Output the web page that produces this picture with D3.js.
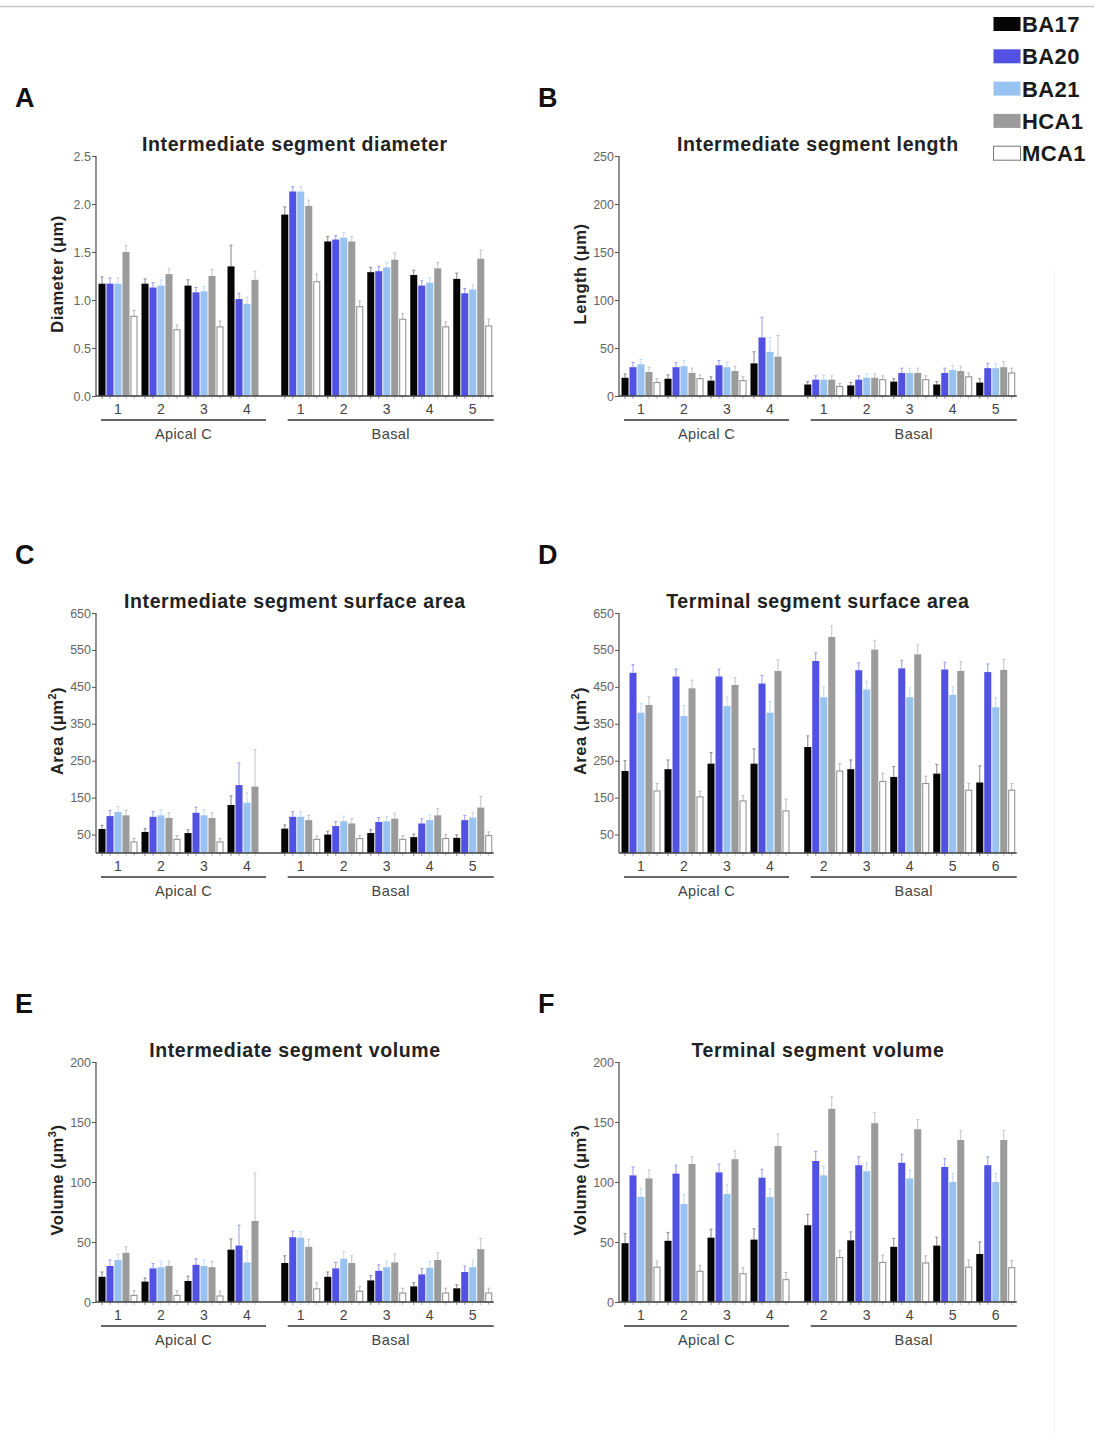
<!DOCTYPE html>
<html>
<head>
<meta charset="utf-8">
<script src="https://cdn.jsdelivr.net/npm/d3@7"></script>
<style>
  body { margin: 0; background: #fff; }
  svg { display: block; }
  text { font-family: "Liberation Sans", Arial, sans-serif; }
</style>
</head>
<body>
<div id="chart"></div>
<script>
// series + categories
const series = ["BA17", "BA20", "BA21", "HCA1", "MCA1"];
const sections = ["Apical C", "Apical C", "Apical C", "Apical C", "Basal", "Basal", "Basal", "Basal", "Basal"];
const interGroups = ["1", "2", "3", "4", "1", "2", "3", "4", "5"];
const termGroups = ["1", "2", "3", "4", "2", "3", "4", "5", "6"];

// A - intermediate segment diameter (µm), rows = groups, cols = series
const diameterMean = [
  [1.17, 1.17, 1.17, 1.50, 0.83],
  [1.17, 1.13, 1.15, 1.27, 0.69],
  [1.15, 1.08, 1.09, 1.25, 0.72],
  [1.35, 1.01, 0.96, 1.21, null],
  [1.89, 2.13, 2.13, 1.98, 1.19],
  [1.61, 1.63, 1.65, 1.61, 0.93],
  [1.29, 1.30, 1.34, 1.42, 0.80],
  [1.26, 1.15, 1.18, 1.33, 0.72],
  [1.22, 1.07, 1.11, 1.43, 0.73]
];
const diameterErr = [
  [0.07, 0.06, 0.06, 0.07, 0.06],
  [0.05, 0.05, 0.06, 0.06, 0.05],
  [0.06, 0.05, 0.05, 0.07, 0.06],
  [0.22, 0.06, 0.07, 0.09, null],
  [0.08, 0.05, 0.05, 0.06, 0.08],
  [0.05, 0.04, 0.05, 0.05, 0.06],
  [0.05, 0.05, 0.05, 0.07, 0.06],
  [0.05, 0.05, 0.05, 0.06, 0.05],
  [0.06, 0.05, 0.05, 0.09, 0.07]
];

// B - intermediate segment length (µm)
const lengthMean = [
  [19, 30, 33, 25, 14],
  [18, 30, 31, 24, 18],
  [16, 32, 30, 26, 16],
  [34, 61, 46, 41, null],
  [12, 17, 17, 17, 10],
  [11, 17, 19, 19, 17],
  [15, 24, 24, 24, 17],
  [12, 24, 27, 26, 20],
  [14, 29, 29, 30, 24]
];
const lengthErr = [
  [4, 5, 5, 5, 4],
  [4, 5, 6, 5, 4],
  [4, 5, 5, 5, 4],
  [12, 21, 15, 22, null],
  [3, 4, 5, 4, 3],
  [3, 4, 4, 4, 4],
  [3, 5, 5, 5, 4],
  [3, 5, 5, 5, 4],
  [4, 5, 5, 6, 5]
];

// C - intermediate segment surface area (µm²)
const areaInterMean = [
  [65, 100, 111, 102, 30],
  [57, 98, 102, 95, 37],
  [54, 109, 102, 95, 30],
  [130, 184, 136, 180, null],
  [66, 98, 98, 89, 37],
  [50, 73, 86, 80, 39],
  [54, 84, 86, 93, 37],
  [43, 80, 89, 102, 39],
  [41, 89, 96, 123, 47]
];
const areaInterErr = [
  [10, 15, 15, 14, 9],
  [9, 14, 15, 14, 10],
  [9, 15, 15, 14, 9],
  [25, 60, 28, 100, null],
  [10, 14, 14, 13, 9],
  [9, 12, 14, 13, 9],
  [9, 12, 13, 15, 10],
  [8, 13, 14, 18, 11],
  [8, 13, 14, 30, 10]
];

// D - terminal segment surface area (µm²)
const areaTermMean = [
  [222, 488, 380, 401, 168],
  [227, 478, 371, 446, 152],
  [242, 478, 398, 455, 141],
  [242, 459, 380, 493, 114],
  [287, 520, 422, 585, 222],
  [227, 495, 443, 551, 194],
  [206, 500, 422, 538, 188],
  [215, 497, 428, 493, 170],
  [191, 490, 395, 496, 170]
];
const areaTermErr = [
  [28, 22, 25, 22, 20],
  [25, 20, 28, 22, 15],
  [30, 20, 25, 20, 15],
  [40, 22, 30, 30, 32],
  [30, 22, 28, 30, 20],
  [25, 20, 22, 25, 22],
  [28, 22, 25, 25, 20],
  [25, 20, 22, 25, 18],
  [45, 22, 25, 28, 18]
];

// E - intermediate segment volume (µm³)
const volInterMean = [
  [21, 30, 35, 41, 5.5],
  [17, 28, 29, 30, 5.5],
  [17.5, 31, 30, 29, 5],
  [43.6, 47, 33, 67.5, null],
  [32.5, 54, 53.6, 46, 11],
  [21, 28, 36, 32.5, 9],
  [18, 26, 29, 33, 7.5],
  [13, 23, 28.6, 35, 7.5],
  [11.4, 25, 29, 44, 7.5]
];
const volInterErr = [
  [4, 5, 5, 5, 4],
  [3, 4, 5, 4, 4],
  [4, 5, 5, 5, 4],
  [9, 17, 10, 40, null],
  [6, 5, 5, 6, 5],
  [4, 5, 6, 6, 4],
  [4, 5, 5, 7, 4],
  [3, 5, 5, 6, 4],
  [3, 5, 6, 9, 4]
];

// F - terminal segment volume (µm³)
const volTermMean = [
  [49, 105.5, 87.5, 103, 29],
  [51, 107, 81.7, 115, 25.6],
  [53.6, 108, 90, 119, 23.6],
  [52, 103.6, 87.5, 130, 18.6],
  [64, 117.5, 105.5, 161, 37],
  [51.4, 114, 109, 149, 33],
  [46, 116, 103, 144, 32.5],
  [47, 112.5, 100, 135, 29],
  [40, 114, 100, 135, 28.6]
];
const volTermErr = [
  [8, 7, 7, 7, 5],
  [7, 7, 8, 6, 5],
  [7, 7, 8, 7, 5],
  [9, 7, 7, 10, 6],
  [9, 8, 8, 10, 6],
  [7, 7, 7, 9, 6],
  [7, 7, 7, 8, 6],
  [7, 7, 7, 8, 6],
  [10, 7, 7, 8, 6]
];

const diameterTicks = [0, 0.5, 1.0, 1.5, 2.0, 2.5];
const lengthTicks = [0, 50, 100, 150, 200, 250];
const areaTicks = [50, 150, 250, 350, 450, 550, 650];
const volumeTicks = [0, 50, 100, 150, 200];

const fills = ["#050505", "#5151e3", "#98c2ef", "#9b9b9b", "#ffffff"];
const errColors = ["#888888", "#9a9aee", "#c0d8f3", "#c4c4c4", "#b8b8b8"];

const W = 1094, H = 1434;
const svg = d3.select("#chart").append("svg")
  .attr("width", W)
  .attr("height", H);

svg.append("line")
  .attr("x1", 0).attr("x2", W).attr("y1", 6.5).attr("y2", 6.5)
  .attr("stroke", "#c8c8c8").attr("stroke-width", 1.5);
svg.append("line")
  .attr("x1", 1054.5).attr("x2", 1054.5).attr("y1", 270).attr("y2", H)
  .attr("stroke", "#f2f2f2").attr("stroke-width", 1);

function drawPanel(cfg) {
  const g = svg.append("g");
  const step = 43;
  const slot = (i) => i + (sections[i] === "Basal" ? 0.25 : 0);
  const cx = d3.scaleLinear().domain([0, 1]).range([cfg.x0, cfg.x0 + step]);
  const inner = d3.scaleBand().domain(series).range([-19.5, 19.5]).paddingInner(0.12);
  const y = d3.scaleLinear().domain(cfg.domain).range([cfg.top + 240, cfg.top]);
  const axisX = cfg.x0 - 22;
  const rightX = cx(slot(8)) + 21;
  const base = y(cfg.domain[0]);

  // panel letter + title
  g.append("text")
    .attr("x", cfg.x0 - 103).attr("y", cfg.top - 49)
    .style("font-size", "27px").style("font-weight", "bold").style("fill", "#111")
    .text(cfg.letter);
  g.append("text")
    .attr("x", (axisX + rightX) / 2).attr("y", cfg.top - 5)
    .attr("text-anchor", "middle")
    .style("font-size", "19.5px").style("font-weight", "bold").style("fill", "#222")
    .style("letter-spacing", "0.6px")
    .text(cfg.title);

  // bars
  const cells = [];
  cfg.mean.forEach((row, i) => row.forEach((v, j) => {
    if (v != null) cells.push({ i, j, v, e: cfg.err[i][j] });
  }));

  g.selectAll("line.err").data(cells).enter().append("line")
    .attr("class", "err")
    .attr("x1", d => cx(slot(d.i)) + inner(series[d.j]) + inner.bandwidth() / 2)
    .attr("x2", d => cx(slot(d.i)) + inner(series[d.j]) + inner.bandwidth() / 2)
    .attr("y1", d => y(d.v))
    .attr("y2", d => y(d.v + d.e))
    .attr("stroke", d => errColors[d.j]).attr("stroke-width", 1);
  g.selectAll("line.cap").data(cells).enter().append("line")
    .attr("class", "cap")
    .attr("x1", d => cx(slot(d.i)) + inner(series[d.j]) + inner.bandwidth() / 2 - 1.5)
    .attr("x2", d => cx(slot(d.i)) + inner(series[d.j]) + inner.bandwidth() / 2 + 1.5)
    .attr("y1", d => y(d.v + d.e))
    .attr("y2", d => y(d.v + d.e))
    .attr("stroke", d => errColors[d.j]).attr("stroke-width", 1);

  g.selectAll("rect.bar").data(cells).enter().append("rect")
    .attr("class", "bar")
    .attr("x", d => cx(slot(d.i)) + inner(series[d.j]) + (d.j === 4 ? 0.5 : 0))
    .attr("y", d => y(d.v))
    .attr("width", d => inner.bandwidth() - (d.j === 4 ? 1 : 0))
    .attr("height", d => base - y(d.v))
    .attr("fill", d => fills[d.j])
    .attr("stroke", d => d.j === 4 ? "#8a8a8a" : "none")
    .attr("stroke-width", 1);

  // little ticks under each bar
  g.selectAll("line.btick").data(cells).enter().append("line")
    .attr("class", "btick")
    .attr("x1", d => cx(slot(d.i)) + inner(series[d.j]) + inner.bandwidth() / 2)
    .attr("x2", d => cx(slot(d.i)) + inner(series[d.j]) + inner.bandwidth() / 2)
    .attr("y1", base).attr("y2", base + 3)
    .attr("stroke", d => errColors[d.j]).attr("stroke-width", 1);

  // axes
  const yAxis = d3.axisLeft(y).tickValues(cfg.ticks).tickSize(4).tickSizeOuter(0)
    .tickFormat(cfg.fmt);
  const ya = g.append("g").attr("transform", `translate(${axisX},0)`).call(yAxis);
  ya.select(".domain").attr("stroke", "#555").attr("stroke-width", 1.3)
    .attr("d", `M0,${base}V${cfg.top}`);
  ya.selectAll(".tick line").attr("stroke", "#555");
  ya.selectAll(".tick text").style("font-size", "12.5px").style("fill", "#666")
    .style("font-family", "'Liberation Sans', Arial, sans-serif").attr("x", -5);

  g.append("line")
    .attr("x1", axisX).attr("x2", rightX).attr("y1", base).attr("y2", base)
    .attr("stroke", "#444").attr("stroke-width", 1.3);

  // group numbers
  const groups = cfg.groups.map((t, i) => ({ t, i }));
  g.selectAll("text.grp").data(groups).enter().append("text")
    .attr("class", "grp")
    .attr("x", d => cx(slot(d.i)))
    .attr("y", base + 18)
    .attr("text-anchor", "middle")
    .style("font-size", "14px").style("fill", "#444")
    .text(d => d.t);

  // section underlines
  const secs = [
    { name: "Apical C", a: cx(slot(0)) - 17, b: cx(slot(3)) + 19 },
    { name: "Basal", a: cx(slot(4)) - 13, b: cx(slot(8)) + 21 }
  ];
  g.selectAll("line.sec").data(secs).enter().append("line")
    .attr("class", "sec")
    .attr("x1", d => d.a).attr("x2", d => d.b)
    .attr("y1", base + 24).attr("y2", base + 24)
    .attr("stroke", "#333").attr("stroke-width", 1.5);
  g.selectAll("text.sec").data(secs).enter().append("text")
    .attr("class", "sec")
    .attr("x", d => (d.a + d.b) / 2)
    .attr("y", base + 43)
    .attr("text-anchor", "middle")
    .style("font-size", "14.5px").style("fill", "#444")
    .style("letter-spacing", "0.4px")
    .text(d => d.name);

  // y label
  const lab = g.append("text")
    .attr("transform", `translate(${axisX - 33},${cfg.top + 118}) rotate(-90)`)
    .attr("text-anchor", "middle")
    .style("font-size", "16.5px").style("font-weight", "bold").style("fill", "#222")
    .style("letter-spacing", "0.5px");
  lab.append("tspan").text(cfg.yLabel);
  if (cfg.sup) {
    lab.append("tspan").attr("dy", -7).style("font-size", "11px").text(cfg.sup);
    lab.append("tspan").attr("dy", 7).text(")");
  }
}

const fmt1 = d3.format(".1f");
const fmt0 = d3.format("d");

drawPanel({ letter: "A", title: "Intermediate segment diameter", yLabel: "Diameter (\u03bcm)",
  x0: 118, top: 156, domain: [0, 2.5], ticks: diameterTicks, fmt: fmt1,
  mean: diameterMean, err: diameterErr, groups: interGroups });
drawPanel({ letter: "B", title: "Intermediate segment length", yLabel: "Length (\u03bcm)",
  x0: 641, top: 156, domain: [0, 250], ticks: lengthTicks, fmt: fmt0,
  mean: lengthMean, err: lengthErr, groups: interGroups });
drawPanel({ letter: "C", title: "Intermediate segment surface area", yLabel: "Area (\u03bcm", sup: "2",
  x0: 118, top: 613, domain: [0, 650], ticks: areaTicks, fmt: fmt0,
  mean: areaInterMean, err: areaInterErr, groups: interGroups });
drawPanel({ letter: "D", title: "Terminal segment surface area", yLabel: "Area (\u03bcm", sup: "2",
  x0: 641, top: 613, domain: [0, 650], ticks: areaTicks, fmt: fmt0,
  mean: areaTermMean, err: areaTermErr, groups: termGroups });
drawPanel({ letter: "E", title: "Intermediate segment volume", yLabel: "Volume (\u03bcm", sup: "3",
  x0: 118, top: 1062, domain: [0, 200], ticks: volumeTicks, fmt: fmt0,
  mean: volInterMean, err: volInterErr, groups: interGroups });
drawPanel({ letter: "F", title: "Terminal segment volume", yLabel: "Volume (\u03bcm", sup: "3",
  x0: 641, top: 1062, domain: [0, 200], ticks: volumeTicks, fmt: fmt0,
  mean: volTermMean, err: volTermErr, groups: termGroups });

// legend
const legend = svg.append("g").selectAll("g").data(series).enter().append("g")
  .attr("transform", (d, i) => `translate(993,${24 + i * 32.3})`);
legend.append("rect")
  .attr("x", 0.5).attr("y", -7).attr("width", 27).attr("height", 14)
  .attr("fill", (d, i) => fills[i])
  .attr("stroke", (d, i) => i === 4 ? "#777" : "none");
legend.append("text")
  .attr("x", 29).attr("dy", "0.36em")
  .style("font-size", "22px").style("font-weight", "bold").style("fill", "#1a1a1a")
  .style("letter-spacing", "0.4px")
  .text(d => d);
</script>
</body>
</html>
